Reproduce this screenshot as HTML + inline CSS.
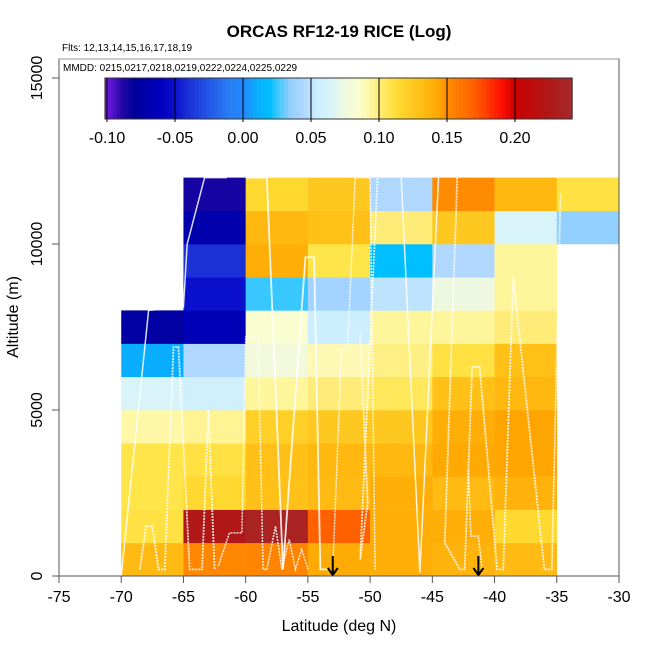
<!DOCTYPE html>
<html><head><meta charset="utf-8"><style>
body{margin:0;background:#fff;font-family:"Liberation Sans",sans-serif}
svg text{font-family:"Liberation Sans",sans-serif}
</style></head><body>
<svg id="chart" width="650" height="650" xmlns="http://www.w3.org/2000/svg">
<text x="339" y="37" font-size="17" font-weight="bold" text-anchor="middle">ORCAS RF12-19 RICE (Log)</text>
<text x="62" y="51" font-size="10">Flts: 12,13,14,15,16,17,18,19</text>
<g id="cells"></g>
<g id="tracks"></g>
<g id="arrows"></g>
<rect x="59" y="59" width="560" height="517" fill="none" stroke="#555" stroke-width="1"/>
<g>
<rect x="60" y="60" width="518" height="90" fill="#fff"/>
<line x1="59" y1="59" x2="619" y2="59" stroke="#999"/>
<text x="63" y="71" font-size="10">MMDD: 0215,0217,0218,0219,0222,0224,0225,0229</text>
<g id="cbar"></g>
</g>
<g id="axes"></g>
<text x="339" y="631" font-size="16" text-anchor="middle">Latitude (deg N)</text>
<text x="18" y="317" font-size="16" text-anchor="middle" transform="rotate(-90 18 317)">Altitude (m)</text>
</svg>
<script>
const lonEdges=[-70,-65,-60,-55,-50,-45,-40,-35];
const altRows=[0,1,2,3,4,5,6,7,8,9,10,11];
// values[row][col], null = no data
const values=[
[0.133,0.152,0.153,0.142,0.140,0.137,0.133,null],
[0.110,0.225,0.235,0.170,0.140,0.140,0.115,null],
[0.108,0.115,0.130,0.133,0.140,0.133,0.138,null],
[0.108,0.110,0.130,0.135,0.135,0.143,0.145,null],
[0.093,0.096,0.120,0.125,0.125,0.140,0.145,null],
[0.065,0.058,0.095,0.100,0.105,0.130,0.135,null],
[0.010,0.045,0.078,0.090,0.098,0.110,0.130,null],
[-0.075,-0.065,0.085,0.055,0.095,0.095,0.100,null],
[null,-0.050,0.025,0.040,0.050,0.075,0.095,null],
[null,-0.040,0.140,0.108,0.020,0.045,0.095,null],
[null,-0.070,0.135,0.130,0.100,0.125,0.065,0.035],
[null,-0.085,0.115,0.125,0.045,0.150,0.135,0.110]];
const xTicks=[-75,-70,-65,-60,-55,-50,-45,-40,-35,-30];
const yTicks=[0,5000,10000,15000];
const cbTicks=[-0.10,-0.05,0.00,0.05,0.10,0.15,0.20];
const cbRange=[-0.1015,0.242];
const arrowLats=[-53,-41.3];
const tracks=[
[[-70,0],[-67.8,8],[-65,8.1],[-64.7,10],[-63.3,12],[-61.5,12]],
[[-68.5,0.2],[-68,1.5],[-67.5,1.5],[-67,0.2],[-66.5,0.2],[-65.8,6.9],[-65.4,6.9],[-64.5,0.2],[-63.5,0.2],[-63,5],[-62.5,0.2]],
[[-62.2,0.3],[-61.3,1.3],[-60.3,1.3],[-60,7.2],[-59,7.2],[-58.6,0.2],[-58.3,0.2],[-57.6,1.5],[-57.1,0.2],[-56.5,1.1],[-56,0.2],[-55.5,0.8],[-55,0.2]],
[[-60,12],[-58.3,12],[-57,0.2],[-55.2,9.6],[-54.5,9.6],[-54,0.2],[-53.3,0.2]],
[[-53,0.2],[-52.3,6.8],[-51.8,6.9],[-51.2,12],[-50,12],[-49.6,0.2]],
[[-50.8,7.3],[-50.2,2.2],[-50.8,0.5],[-49.4,12]],
[[-47.5,12],[-46,0.1],[-44.5,12]],
[[-43,12],[-44,1],[-42.8,0.2],[-42.4,0.2],[-41.8,6.3],[-41.2,6.3],[-39.8,0.2],[-39.3,0.2],[-38.5,9],[-36,0.2],[-35.4,0.2],[-34.7,11.5]],
[[-42.1,3.2],[-41.9,1.2],[-41.3,1.2],[-41,0.2]]];
const X=v=>59+(v+75)*(560/45);
const Y=v=>576-v*(498/15000);
const stops=[[-0.1015,'#7b1fe8'],[-0.09,'#2a08a8'],[-0.08,'#000099'],[-0.06,'#0000c0'],[-0.05,'#0a10cc'],[-0.04,'#1c30d8'],[-0.01,'#2a7ef5'],[0,'#2288ff'],[0.01,'#0aaeff'],[0.02,'#00bfff'],[0.025,'#38c8ff'],[0.035,'#94d0ff'],[0.045,'#b0d8ff'],[0.055,'#cceeff'],[0.065,'#d8f4f8'],[0.075,'#eef8e0'],[0.085,'#fafdd0'],[0.095,'#fff59a'],[0.1,'#ffec78'],[0.108,'#ffe44a'],[0.115,'#ffd830'],[0.125,'#ffc820'],[0.135,'#ffb810'],[0.145,'#ffa500'],[0.15,'#ff8c00'],[0.17,'#ff6000'],[0.19,'#ff1000'],[0.2,'#cc0000'],[0.225,'#b01818'],[0.242,'#a52a2a']];
function hex(h){return [1,3,5].map(i=>parseInt(h.substr(i,2),16));}
function cmap(v){
 if(v<=stops[0][0])return stops[0][1];
 for(let i=1;i<stops.length;i++){if(v<=stops[i][0]){const a=hex(stops[i-1][1]),b=hex(stops[i][1]),t=(v-stops[i-1][0])/(stops[i][0]-stops[i-1][0]);return 'rgb('+a.map((c,k)=>Math.round(c+(b[k]-c)*t)).join(',')+')';}}
 return stops[stops.length-1][1];}
const NS='http://www.w3.org/2000/svg';
function mk(tag,attrs,parent){const e=document.createElementNS(NS,tag);for(const k in attrs)e.setAttribute(k,attrs[k]);parent.appendChild(e);return e;}
const cells=document.getElementById('cells');
altRows.forEach((r,ri)=>{lonEdges.forEach((lon,ci)=>{const v=values[ri][ci];if(v===null)return;
 const e=mk('rect',{x:X(lon),y:Y((r+1)*1000),width:X(lon+5)-X(lon)+0.3,height:Y(r*1000)-Y((r+1)*1000)+0.3,fill:cmap(v)},cells);
 
 });});
const tr=document.getElementById('tracks');
tracks.forEach((t,i)=>{const e=mk('polyline',{points:t.map(p=>X(p[0])+','+Y(p[1]*1000)).join(' '),fill:'none',stroke:'#fff','stroke-width':i%2?1.8:1.5,'stroke-dasharray':i%3==0?'none':'2 1','stroke-opacity':0.85},tr);
 
 });
const ar=document.getElementById('arrows');
arrowLats.forEach(l=>{const e=mk('path',{d:`M${X(l)},556 V575 M${X(l)-5},568 L${X(l)},575 L${X(l)+5},568`,stroke:'#000','stroke-width':2,fill:'none'},ar);
 
 });
const ax=document.getElementById('axes');
xTicks.forEach(t=>{mk('line',{x1:X(t),x2:X(t),y1:576,y2:583,stroke:'#555'},ax);
 const e=mk('text',{x:X(t),y:602,'font-size':16,'text-anchor':'middle'},ax);e.textContent=t;
 
 });
yTicks.forEach(t=>{mk('line',{x1:52,x2:59,y1:Y(t),y2:Y(t),stroke:'#555'},ax);
 const e=mk('text',{x:42,y:Y(t),'font-size':16,'text-anchor':'middle',transform:`rotate(-90 42 ${Y(t)})`},ax);e.textContent=t;
 
 });
const cb=document.getElementById('cbar');
const CX=v=>107+(v+0.1)*(68/0.05);
const n=120;
for(let i=0;i<n;i++){const v0=cbRange[0]+(cbRange[1]-cbRange[0])*i/n,v1=cbRange[0]+(cbRange[1]-cbRange[0])*(i+1)/n;
 mk('rect',{x:CX(v0),y:78,width:CX(v1)-CX(v0)+0.5,height:41,fill:cmap((v0+v1)/2)},cb);}
mk('rect',{x:CX(cbRange[0]),y:78,width:CX(cbRange[1])-CX(cbRange[0]),height:41,fill:'none',stroke:'#333'},cb);
cbTicks.forEach(t=>{mk('line',{x1:CX(t),x2:CX(t),y1:78,y2:122,stroke:'#000'},cb);
 const e=mk('text',{x:CX(t),y:143,'font-size':16,'text-anchor':'middle'},cb);e.textContent=t.toFixed(2);
 
 });
</script>
</body></html>
